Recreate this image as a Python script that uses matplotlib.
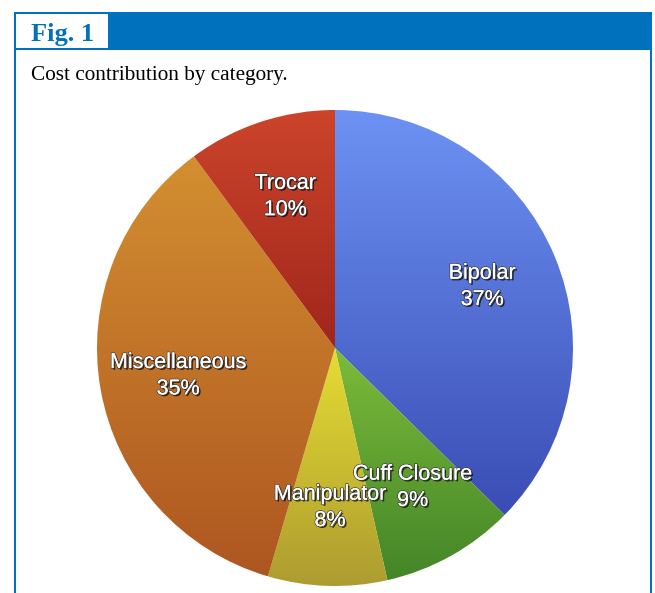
import numpy as np
import matplotlib
matplotlib.use("Agg")
import matplotlib.pyplot as plt
from matplotlib.patches import Rectangle
from matplotlib.colors import LinearSegmentedColormap
from matplotlib.transforms import offset_copy
import matplotlib.patheffects as pe

# data
categories = ["Bipolar", "Cuff Closure", "Manipulator", "Miscellaneous", "Trocar"]
shares = [37, 9, 8, 35, 10]
pct_labels = ["37%", "9%", "8%", "35%", "10%"]

# (top, bottom) shade of each slice, the chart has a top-lit gradient
shades = [("#6d92f4", "#3a4db5"),
          ("#7cbb3a", "#448528"),
          ("#e6dc33", "#ad9c30"),
          ("#d38f30", "#ae5621"),
          ("#cc442b", "#a0261b")]

W, H = 655, 593
fig = plt.figure(figsize=(W / 100, H / 100), dpi=100)
fig.patch.set_facecolor("white")

blue = "#0071bc"


def px_rect(x0, y0, x1, y1, color):
    # rectangle given in pixel coords measured from the top-left corner
    fig.add_artist(Rectangle((x0 / W, 1 - y1 / H), (x1 - x0) / W, (y1 - y0) / H,
                             transform=fig.transFigure, facecolor=color,
                             edgecolor="none", zorder=0))


# frame of the figure box
px_rect(14, 12, 652, 50, blue)
px_rect(14, 50, 16, H, blue)
px_rect(650, 50, 652, H, blue)
px_rect(16, 14, 108, 48, "white")

fig.text(31 / W, 1 - 41 / H, "Fig. 1", family="Liberation Serif", weight="bold",
         fontsize=19, color=blue, va="baseline", ha="left")
fig.text(31 / W, 1 - 80 / H, "Cost contribution by category.",
         family="Liberation Serif", fontsize=15.3, color="black",
         va="baseline", ha="left")

# pie
ax = fig.add_axes([97 / W, 7 / H, 476 / W, 476 / H])
wedges, _ = ax.pie(shares, startangle=90, counterclock=False, radius=1,
                   wedgeprops=dict(linewidth=0))
ax.set_aspect("equal")
ax.axis("off")

grad = np.linspace(1, 0, 256).reshape(-1, 1)
for w, (top, bot) in zip(wedges, shades):
    ext = w.get_path().get_extents()
    cmap = LinearSegmentedColormap.from_list("s", [bot, top])
    im = ax.imshow(grad, cmap=cmap, vmin=0, vmax=1, aspect="auto",
                   extent=[ext.x0, ext.x1, ext.y0, ext.y1], zorder=1,
                   interpolation="bilinear")
    im.set_clip_path(w)
    w.set_alpha(0)

ax.set_xlim(-1, 1)
ax.set_ylim(-1, 1)

# labels: name above, percent below, at 0.67 of the radius
effects = [pe.withSimplePatchShadow(offset=(1.2, -1.2), shadow_rgbFace="black",
                                    alpha=0.75),
           pe.withStroke(linewidth=1.2, foreground="#444444"),
           pe.Normal()]
up = offset_copy(ax.transData, fig, y=9.5, units="points")
down = offset_copy(ax.transData, fig, y=-9.5, units="points")
for w, name, pct in zip(wedges, categories, pct_labels):
    ang = np.deg2rad((w.theta1 + w.theta2) / 2)
    x, y = 0.67 * np.cos(ang), 0.67 * np.sin(ang)
    for s, tr in ((name, up), (pct, down)):
        ax.text(x, y, s, transform=tr, ha="center", va="center",
                family="Liberation Sans", fontsize=15.5, color="white",
                zorder=5, path_effects=effects)

fig.savefig("out.png", dpi=100)
